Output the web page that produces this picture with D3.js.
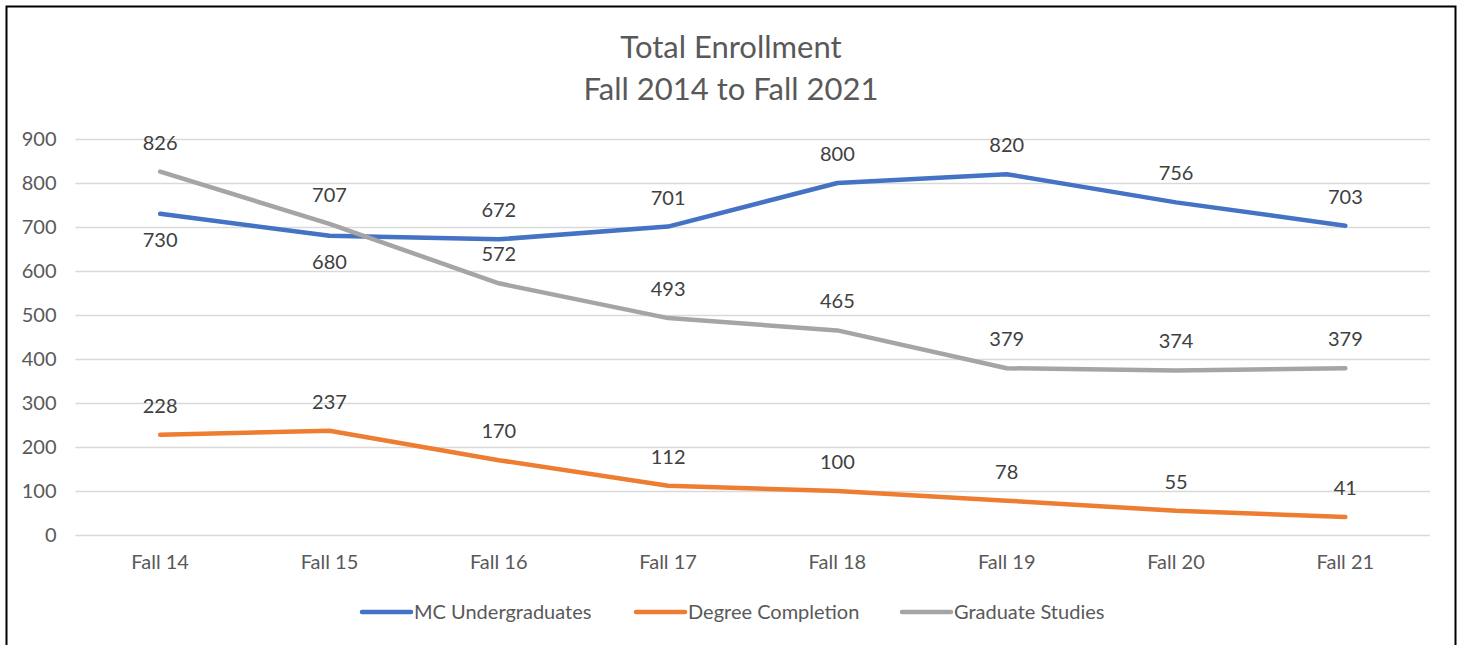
<!DOCTYPE html>
<html>
<head>
<meta charset="utf-8">
<script src="https://cdn.jsdelivr.net/npm/d3@7"></script>
<style>
  html, body { margin: 0; padding: 0; background: #fff; }
  svg { display: block; }
  text { font-family: Lato, "Open Sans", sans-serif; }
</style>
</head>
<body>
<svg id="chart" width="1462" height="645"></svg>
<script>
const categories = ["Fall 14", "Fall 15", "Fall 16", "Fall 17", "Fall 18", "Fall 19", "Fall 20", "Fall 21"];
const undergrad = [730, 680, 672, 701, 800, 820, 756, 703];
const degreeCompletion = [228, 237, 170, 112, 100, 78, 55, 41];
const graduate = [826, 707, 572, 493, 465, 379, 374, 379];
const undergradLabelPos = ["below", "below", "above", "above", "above", "above", "above", "above"];
const seriesNames = ["MC Undergraduates", "Degree Completion", "Graduate Studies"];
const seriesColors = ["#4472C4", "#ED7D31", "#A5A5A5"];
const yTicks = [0, 100, 200, 300, 400, 500, 600, 700, 800, 900];
const titleLines = ["Total Enrollment", "Fall 2014 to Fall 2021"];

const series = [
  { name: seriesNames[0], values: undergrad, color: seriesColors[0], pos: undergradLabelPos },
  { name: seriesNames[1], values: degreeCompletion, color: seriesColors[1], pos: categories.map(() => "above") },
  { name: seriesNames[2], values: graduate, color: seriesColors[2], pos: categories.map(() => "above") }
];

const FONT = "Lato, 'Open Sans', sans-serif";
const svg = d3.select("#chart");
const plotLeft = 75.5, plotRight = 1430, plotTop = 139, plotBottom = 535;

// Border
svg.append("rect").attr("x", 6.5).attr("y", 6.5).attr("width", 1449).attr("height", 660)
  .attr("fill", "#fff").attr("stroke", "#000").attr("stroke-width", 2);

const x = d3.scaleBand().domain(categories).range([plotLeft, plotRight]);
const y = d3.scaleLinear().domain([0, 900]).range([plotBottom, plotTop]);

// Title
svg.append("g").selectAll("text").data(titleLines).join("text")
  .attr("x", 731).attr("y", (d, i) => 47 + i * 42)
  .attr("dy", "0.35em")
  .attr("text-anchor", "middle").attr("font-size", 31).attr("fill", "#595959")
  .text(d => d);

// Gridlines + y labels
const yAxis = d3.axisLeft(y).tickValues(yTicks).tickSize(-(plotRight - plotLeft)).tickPadding(19);
const gy = svg.append("g").attr("transform", `translate(${plotLeft},0)`).call(yAxis);
gy.select(".domain").remove();
gy.selectAll(".tick line").attr("stroke", "#D9D9D9").attr("stroke-width", 1.5);
gy.selectAll(".tick text").attr("font-size", 20).attr("fill", "#595959").attr("font-family", FONT);

// X axis labels
const xAxis = d3.axisBottom(x).tickSize(0).tickPadding(20);
const gx = svg.append("g").attr("transform", `translate(0,${plotBottom})`).call(xAxis);
gx.select(".domain").remove();
gx.selectAll(".tick text").attr("font-size", 20).attr("fill", "#595959").attr("font-family", FONT);

const cx = c => x(c) + x.bandwidth() / 2;
const line = d3.line().x((d, i) => cx(categories[i])).y(d => y(d));

series.forEach(s => {
  svg.append("path").datum(s.values)
    .attr("d", line).attr("fill", "none").attr("stroke", s.color)
    .attr("stroke-width", 4.5).attr("stroke-linejoin", "round").attr("stroke-linecap", "round");
});

// Data labels
series.forEach(s => {
  svg.append("g").selectAll("text").data(s.values).join("text")
    .attr("x", (d, i) => cx(categories[i]))
    .attr("y", (d, i) => y(d) + (s.pos[i] === "above" ? -29 : 26))
    .attr("dy", "0.35em")
    .attr("text-anchor", "middle").attr("font-size", 20).attr("fill", "#404040")
    .text(d => d);
});

// Legend
const legendX = [360, 634, 900];
const lg = svg.append("g").selectAll("g").data(series).join("g")
  .attr("transform", (d, i) => `translate(${legendX[i]},612)`);
lg.append("line").attr("x1", 2).attr("x2", 51).attr("y1", 0).attr("y2", 0)
  .attr("stroke", d => d.color).attr("stroke-width", 4.5).attr("stroke-linecap", "round");
lg.append("text").attr("x", 54).attr("y", 0).attr("dy", "0.35em")
  .attr("font-size", 20).attr("fill", "#595959").text(d => d.name);
</script>
</body>
</html>
